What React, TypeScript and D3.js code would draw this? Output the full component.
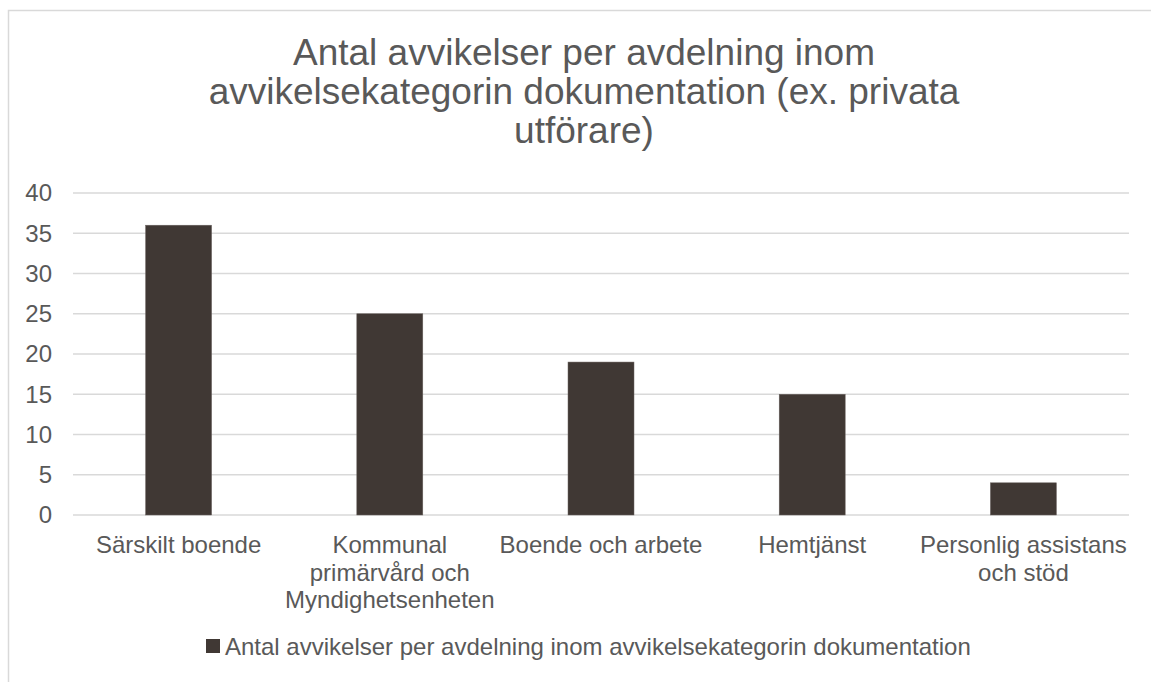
import React from "react";
import * as d3 from "d3";

const titleLines = [
  "Antal avvikelser per avdelning inom",
  "avvikelsekategorin dokumentation (ex. privata",
  "utförare)",
];
const categories = [
  ["Särskilt boende"],
  ["Kommunal", "primärvård och", "Myndighetsenheten"],
  ["Boende och arbete"],
  ["Hemtjänst"],
  ["Personlig assistans", "och stöd"],
];
const values = [36, 25, 19, 15, 4];
const yTicks = [0, 5, 10, 15, 20, 25, 30, 35, 40];
const seriesName = "Antal avvikelser per avdelning inom avvikelsekategorin dokumentation";

const W = 1151;
const H = 682;
const plot = { left: 73, right: 1129, top: 193, bottom: 515 };
const FONT = "'Liberation Sans', Arial, sans-serif";
const TEXT = "#595959";
const GRID = "#d9d9d9";
const BAR = "#403834";

export default function App() {
  const x = d3
    .scaleBand<number>()
    .domain(d3.range(categories.length))
    .range([plot.left, plot.right])
    .paddingInner(0.6875)
    .paddingOuter(0.34375);
  const y = d3.scaleLinear().domain([0, 40]).range([plot.bottom, plot.top]);
  const band = (plot.right - plot.left) / categories.length;

  return (
    <svg
      width={W}
      height={H}
      style={{ position: "absolute", left: 0, top: 0, background: "#fff" }}
      fontFamily={FONT}
    >
      <rect x={8.5} y={10.5} width={1152} height={700} fill="#fff" stroke={GRID} strokeWidth={1.5} />
      <text textAnchor="middle" fill={TEXT} fontSize={37}>
        {titleLines.map((t, i) => (
          <tspan key={i} x={584} y={65 + i * 39}>
            {t}
          </tspan>
        ))}
      </text>
      {yTicks.map((t) => (
        <g key={t}>
          <line x1={plot.left} x2={plot.right} y1={y(t)} y2={y(t)} stroke={GRID} strokeWidth={1.5} />
          <text x={52} y={y(t)} dy="0.35em" textAnchor="end" fill={TEXT} fontSize={24}>
            {t}
          </text>
        </g>
      ))}
      {values.map((v, i) => (
        <rect
          key={i}
          x={x(i)}
          y={y(v)}
          width={x.bandwidth()}
          height={y(0) - y(v)}
          fill={BAR}
          stroke="#6b6360"
          strokeWidth={0.5}
        />
      ))}
      {categories.map((lines, i) => (
        <text key={i} textAnchor="middle" fill={TEXT} fontSize={24}>
          {lines.map((l, j) => (
            <tspan key={j} x={plot.left + band * (i + 0.5)} y={553 + j * 27.5}>
              {l}
            </tspan>
          ))}
        </text>
      ))}
      <rect x={206} y={639} width={14} height={14} fill={BAR} />
      <text x={225} y={655} fill={TEXT} fontSize={24}>
        {seriesName}
      </text>
    </svg>
  );
}
